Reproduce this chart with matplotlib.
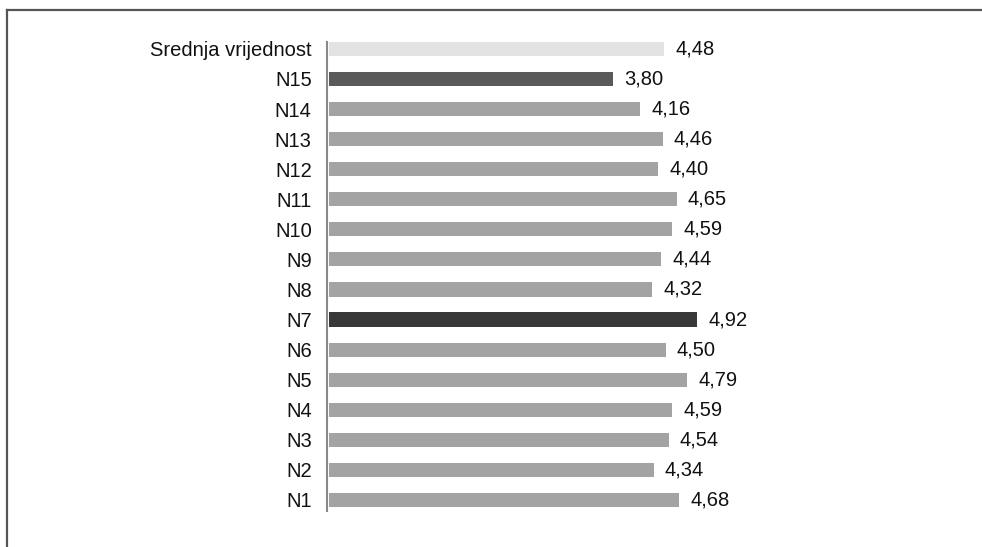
import matplotlib
matplotlib.use("Agg")
import matplotlib.pyplot as plt
from matplotlib.lines import Line2D
from matplotlib import font_manager

categories = ["N1", "N2", "N3", "N4", "N5", "N6", "N7", "N8", "N9", "N10",
              "N11", "N12", "N13", "N14", "N15", "Srednja vrijednost"]
values = [4.68, 4.34, 4.54, 4.59, 4.79, 4.50, 4.92, 4.32, 4.44, 4.59,
          4.65, 4.40, 4.46, 4.16, 3.80, 4.48]
bar_colors = ["#a3a3a3"] * 6 + ["#383838"] + ["#a3a3a3"] * 7 + ["#5a5a5a", "#e3e3e3"]

names = {f.name for f in font_manager.fontManager.ttflist}
fam = ["Liberation Sans Narrow", "Liberation Sans", "DejaVu Sans"]
fam = [f for f in fam if f in names] or ["DejaVu Sans"]
plt.rcParams["font.family"] = fam

fig = plt.figure(figsize=(9.82, 5.47), dpi=100)
ax = fig.add_axes([327/982, 1 - 511/547, (900 - 327)/982, (511 - 42)/547])

y = list(range(len(categories)))
ax.barh(y, values, height=0.47, color=bar_colors, edgecolor="none")
ax.set_xlim(-2/74.8, (573 - 2)/74.8)
ax.set_ylim(-0.366, 15.23)
ax.set_yticks(y)
ax.set_yticklabels(categories, fontsize=14.5, color="#111111")
ax.tick_params(axis="y", length=0, pad=11)
ax.set_xticks([])
for s in ["top", "right", "bottom"]:
    ax.spines[s].set_visible(False)
ax.spines["left"].set_color("#8a8a8a")
ax.spines["left"].set_linewidth(1.5)

for yi, v in zip(y, values):
    ax.annotate(f"{v:.2f}".replace(".", ","), (v, yi), xytext=(8, 0),
                textcoords="offset points", va="center", ha="left",
                fontsize=14.5, color="#111111")

fig.add_artist(Line2D([7/982, 1], [1 - 9.5/547, 1 - 9.5/547], transform=fig.transFigure,
                      color="#555555", lw=1.6))
fig.add_artist(Line2D([7/982, 7/982], [0, 1 - 9.5/547], transform=fig.transFigure,
                      color="#555555", lw=1.6))

fig.savefig("out.png", dpi=100)
